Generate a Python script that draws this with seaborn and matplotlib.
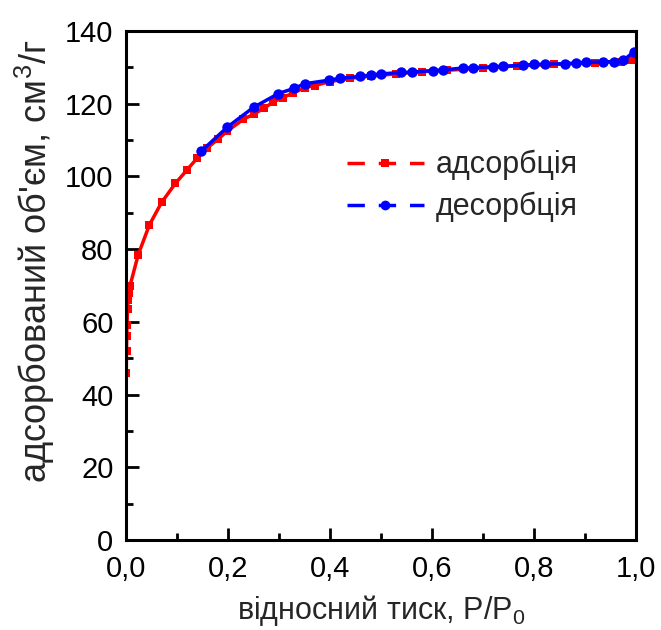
import matplotlib
matplotlib.use("Agg")
import matplotlib.pyplot as plt
import seaborn as sns
import numpy as np
import pandas as pd
from matplotlib.lines import Line2D
from matplotlib.ticker import MultipleLocator, FuncFormatter

# ---- data ----
ads_p = [0.0005, 0.001, 0.0015, 0.002, 0.003, 0.004, 0.006, 0.008,
         0.024, 0.046, 0.070, 0.097, 0.119, 0.140, 0.159, 0.180, 0.199,
         0.230, 0.250, 0.270, 0.289, 0.308, 0.328, 0.351, 0.370,
         0.400, 0.440, 0.480, 0.530, 0.580, 0.630, 0.700, 0.766, 0.840,
         0.920, 0.970, 0.990]
ads_v = [46.0, 52.0, 56.0, 59.0, 63.5, 66.0, 68.0, 70.0,
         78.5, 86.7, 92.9, 98.1, 101.7, 105.1, 107.8, 110.2, 112.5,
         115.7, 117.1, 118.7, 120.5, 121.7, 123.0, 124.4, 125.0,
         126.1, 127.0, 127.6, 128.2, 128.8, 129.2, 129.8, 130.4, 130.8,
         131.3, 131.6, 132.0]

des_p = [0.148, 0.199, 0.250, 0.299, 0.329, 0.351, 0.399, 0.420, 0.459,
         0.480, 0.500, 0.540, 0.561, 0.601, 0.621, 0.660, 0.681, 0.720,
         0.740, 0.779, 0.800, 0.822, 0.861, 0.882, 0.902, 0.936, 0.957,
         0.975, 0.996]
des_v = [107.0, 113.6, 119.0, 122.8, 124.2, 125.5, 126.5, 127.0, 127.5,
         127.9, 128.2, 128.6, 128.7, 129.1, 129.3, 129.8, 129.9, 130.2,
         130.3, 130.6, 130.8, 130.9, 131.0, 131.2, 131.4, 131.5, 131.6,
         131.9, 134.3]

ads_label = "адсорбція"
des_label = "десорбція"
xlabel = r"відносний тиск, P/P$\mathregular{_0}$"
ylabel = r"адсорбований об'єм, см$\mathregular{^3}$/г"

sns.set_theme(style="white")
plt.rcParams["font.family"] = ["Liberation Sans", "DejaVu Sans"]
plt.rcParams["mathtext.fontset"] = "custom"
plt.rcParams["mathtext.rm"] = "Liberation Sans"

fig = plt.figure(figsize=(6.61, 6.30), dpi=100)
ax = fig.add_axes([126/661, 1-540/630, 510/661, 509/630])

ads = pd.DataFrame({"p": ads_p, "v": ads_v})
des = pd.DataFrame({"p": des_p, "v": des_v})

sns.lineplot(data=ads, x="p", y="v", ax=ax, color="#ff0000", marker="s",
             markersize=6, markeredgewidth=0, linewidth=2.5, sort=False,
             estimator=None)
sns.lineplot(data=des, x="p", y="v", ax=ax, color="#0000ff", marker="o",
             markersize=7.5, markeredgewidth=0, linewidth=2.5, sort=False,
             estimator=None)

ax.set_xlim(0, 1.0)
ax.set_ylim(0, 140)
ax.xaxis.set_major_locator(MultipleLocator(0.2))
ax.xaxis.set_minor_locator(MultipleLocator(0.1))
ax.yaxis.set_major_locator(MultipleLocator(20))
ax.yaxis.set_minor_locator(MultipleLocator(10))
ax.xaxis.set_major_formatter(FuncFormatter(lambda v, p: f"{v:.1f}".replace(".", ",")))
ax.yaxis.set_major_formatter(FuncFormatter(lambda v, p: f"{v:.0f}"))

ax.tick_params(axis="both", which="both", direction="in", top=False, right=False,
               bottom=True, left=True, colors="black", width=2.0)
ax.tick_params(which="major", length=9, labelsize=21)
ax.tick_params(axis="x", which="major", pad=11)
ax.tick_params(axis="y", which="major", pad=9)
ax.tick_params(which="minor", length=5)
for s in ax.spines.values():
    s.set_color("black")
    s.set_linewidth(2.2)

ax.set_xlabel(xlabel, fontsize=22, labelpad=7)
ax.set_ylabel(ylabel, fontsize=26)
ax.yaxis.set_label_coords(-0.135, 0.548)

h1 = Line2D([], [], color="#ff0000", lw=2.5, marker="s", markersize=6,
            markeredgewidth=0, dashes=(5.0, 4.0))
h2 = Line2D([], [], color="#0000ff", lw=2.5, marker="o", markersize=7,
            markeredgewidth=0, dashes=(5.0, 4.0))
ax.legend([h1, h2], [ads_label, des_label], loc="upper left",
          bbox_to_anchor=(0.38, 0.82), frameon=False, fontsize=22,
          handlelength=2.5, handletextpad=0.4, labelspacing=0.38,
          numpoints=1)

fig.savefig("out.png", dpi=100)
